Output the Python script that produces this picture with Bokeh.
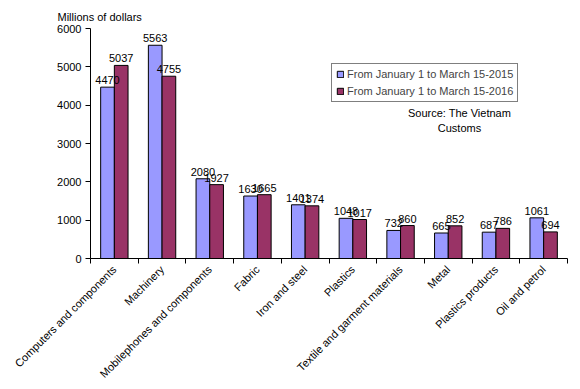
import math
from bokeh.plotting import figure
from bokeh.models import (ColumnDataSource, FixedTicker, Range1d, Legend, LegendItem,
                          Label, Title, LabelSet)
from bokeh.core.properties import value
from bokeh.embed import file_html
from bokeh.resources import INLINE

categories = ["Computers and components", "Machinery", "Mobilephones and components",
              "Fabric", "Iron and steel", "Plastics", "Textile and garment materials",
              "Metal", "Plastics products", "Oil and petrol"]
values_2015 = [4470, 5563, 2080, 1630, 1401, 1048, 732, 665, 687, 1061]
values_2016 = [5037, 4755, 1927, 1665, 1374, 1017, 860, 852, 786, 694]
series_names = ["From January 1 to March 15-2015", "From January 1 to March 15-2016"]
y_ticks = [0, 1000, 2000, 3000, 4000, 5000, 6000]

FONT = "Liberation Sans"
BLUE = "#9999FF"
RED = "#993366"
bar_w = 0.287

n = len(categories)
centers = [i + 0.5 for i in range(n)]
x15 = [c - bar_w / 2 for c in centers]
x16 = [c + bar_w / 2 for c in centers]

src15 = ColumnDataSource(dict(x=x15, top=values_2015, lab=[str(v) for v in values_2015]))
src16 = ColumnDataSource(dict(x=x16, top=values_2016, lab=[str(v) for v in values_2016]))

p = figure(width=578, height=387, output_backend="svg", toolbar_location=None,
           x_range=Range1d(0, n), y_range=Range1d(0, 6000),
           min_border_left=90, min_border_right=11, min_border_top=28, min_border_bottom=128)
p.outline_line_color = None
p.grid.visible = False
p.background_fill_color = "white"
p.border_fill_color = "white"

r15 = p.vbar(x="x", top="top", width=bar_w, source=src15, fill_color=BLUE,
             line_color="black", line_width=1)
r16 = p.vbar(x="x", top="top", width=bar_w, source=src16, fill_color=RED,
             line_color="black", line_width=1)

for src in (src15, src16):
    ls = LabelSet(x="x", y="top", text="lab", source=src, y_offset=3,
                  text_align="center", text_baseline="bottom",
                  text_font=value(FONT), text_font_size=value("11px"),
                  text_color=value("black"))
    p.add_layout(ls)

# x axis: labels at category centres, tick marks at category boundaries
xa = p.xaxis[0]
xa.ticker = FixedTicker(ticks=centers, minor_ticks=list(range(n + 1)))
xa.major_label_overrides = {c: cat for c, cat in zip(centers, categories)}
xa.major_tick_out = 0
xa.major_tick_in = 0
xa.minor_tick_out = 5
xa.minor_tick_in = 0
xa.minor_tick_line_color = "black"
xa.axis_line_color = "black"
xa.major_label_orientation = math.pi / 4
xa.major_label_text_font = FONT
xa.major_label_text_font_size = "11px"
xa.major_label_text_color = "black"
xa.major_label_standoff = 4

ya = p.yaxis[0]
ya.ticker = FixedTicker(ticks=y_ticks, minor_ticks=[])
ya.major_tick_out = 5
ya.major_tick_in = 0
ya.axis_line_color = "black"
ya.major_tick_line_color = "black"
ya.major_label_text_font = FONT
ya.major_label_text_font_size = "11px"
ya.major_label_text_color = "black"
ya.major_label_standoff = 4

p.add_layout(Title(text="Millions of dollars", align="left", offset=-33,
                   text_font=FONT, text_font_size="11px", text_font_style="normal",
                   text_color="black", standoff=12), "above")

legend = Legend(items=[LegendItem(label=series_names[0], renderers=[r15]),
                       LegendItem(label=series_names[1], renderers=[r16])],
                location=(241, 156), border_line_color="black", border_line_width=1,
                background_fill_alpha=1, label_text_font=FONT, label_text_font_size="11px",
                glyph_width=8, glyph_height=8, label_height=11, spacing=5, padding=4,
                margin=0, label_standoff=3)
p.add_layout(legend)

p.add_layout(Label(x=369, y=140, x_units="screen", y_units="screen",
                   text="Source: The Vietnam", text_align="center",
                   text_font=FONT, text_font_size="11px", text_color="black"))
p.add_layout(Label(x=369, y=125, x_units="screen", y_units="screen",
                   text="Customs", text_align="center",
                   text_font=FONT, text_font_size="11px", text_color="black"))

open("out.html", "w").write(file_html(p, INLINE))
